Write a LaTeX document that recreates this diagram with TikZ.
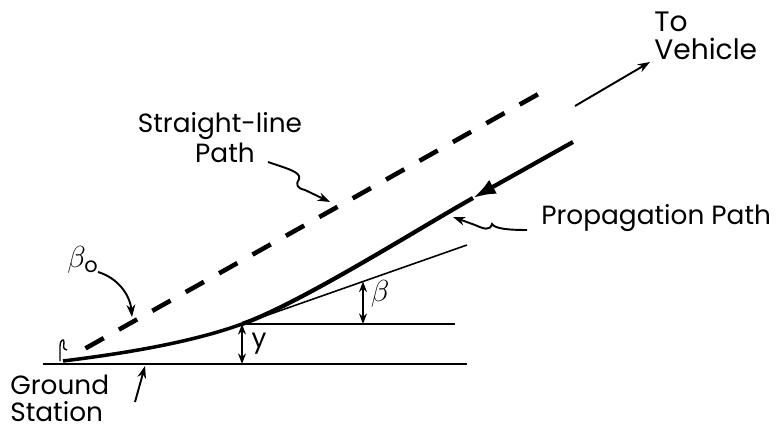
\documentclass[tikz,border=0pt]{standalone}
\usepackage{fontspec}
\setmainfont{Poppins}
\usetikzlibrary{arrows.meta, positioning, calc}

\begin{document}
\begin{tikzpicture}[
  x=0.02cm, y=-0.02cm,
  lbl/.style={font=\fontsize{15}{17}\selectfont, inner sep=0pt},
  biglbl/.style={font=\fontsize{16}{18}\selectfont, inner sep=0pt},
  thinln/.style={line width=1.1pt},
  thickpath/.style={line width=2.4pt},
  dashpath/.style={line width=2.6pt, dash pattern=on 11.9pt off 9.9pt},
  ptr/.style={line width=1.1pt, -{Stealth[length=7pt, width=5pt]}},
  dim/.style={line width=1pt, {Stealth[length=6pt, width=4.5pt]}-{Stealth[length=6pt, width=4.5pt]}},
  >=Stealth
]
  \useasboundingbox (0,0) rectangle (776,428);

  % Points on the ground and on the path
  \coordinate (gs) at (63,361);
  \coordinate (gl) at (43,364);
  \coordinate (gr) at (467,364);
  \coordinate (tp) at (242,324);
  \coordinate (tpg) at (242,364);
  \coordinate (hr) at (455,324);
  \coordinate (te) at (467,245);
  \coordinate (ba) at (363,324);
  \coordinate (bb) at (363,281.5);
  \coordinate (pm) at (473,198);
  \coordinate (pe) at (573,142);
  \coordinate (se) at (542,92);

  % Labels
  \node[lbl, anchor=base] (sl1) at (220,133) {Straight-line};
  \node[lbl, anchor=base] (sl2) at (225,163) {Path};
  \node[biglbl, anchor=base west] (to) at (654,32) {To};
  \node[biglbl, anchor=base west] (veh) at (654,60) {Vehicle};
  \node[lbl, anchor=base west] (prop) at (541,225) {Propagation Path};
  \node[lbl, anchor=base west] (gnd) at (10,394) {Ground};
  \node[lbl, anchor=base west] (stn) at (10,421) {Station};
  \node[lbl] (ylbl) at (259,344) {y};
  \node[font=\fontsize{17}{19}\selectfont, inner sep=0pt] (blbl) at (380,294) {$\beta$};
  \node[font=\fontsize{17}{19}\selectfont, inner sep=0pt] (b0lbl) at (83,260) {$\beta_{\mathrm{o}}$};

  % Ground, reference lines
  \draw[line width=1.4pt] (gl) -- (gr);
  \draw[thinln] (tp) -- (hr);
  \draw[line width=0.9pt] (tp) -- (te);
  \draw[dim] (tp) -- (tpg);
  \draw[dim] (ba) -- (bb);

  % Straight-line path
  \draw[dashpath, shorten <=14.7pt] (gs) -- (se);

  % Propagation path
  \draw[line width=2pt] (gs) .. controls (120,354) and (190,343) .. (tp);
  \draw[thickpath] (tp) .. controls (300,303.6) and (420,227.7) .. (pm);
  \draw[thickpath, -{Latex[length=13pt, width=9pt]}] (pe) -- (pm);

  % small angle mark
  \draw[line width=0.8pt] (60,361) -- (60,346) .. controls (60,340) and (64,338) .. (64,342)
    .. controls (64,346) and (62,349) .. (67,350);

  % Pointers
  \coordinate (va) at (575,106);
  \coordinate (vb) at (650,62);
  \draw[ptr] (va) -- (vb);
  \coordinate (sla) at (268,162);
  \coordinate (slb) at (330,202);
  \draw[ptr] (sla) .. controls (285,168) and (302,172) .. (299,179)
    .. controls (296,184) and (296,188) .. (305,190) -- (slb);
  \coordinate (ppa) at (527,230);
  \coordinate (ppb) at (453,217);
  \draw[ptr] (ppa) .. controls (510,230) and (495,229) .. (492,224)
    .. controls (490,231) and (484,229) .. (475,225) -- (ppb);
  \coordinate (b0a) at (98,272);
  \coordinate (b0b) at (132,317);
  \draw[ptr] (b0a) .. controls (118,278) and (130,295) .. (b0b);
  \coordinate (gsa) at (135,402);
  \coordinate (gsb) at (145,366);
  \draw[ptr] (gsa) -- (gsb);
\end{tikzpicture}
\end{document}
